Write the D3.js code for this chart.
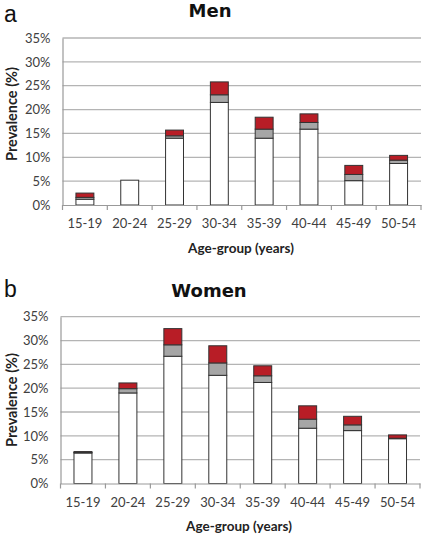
<!DOCTYPE html>
<html>
<head>
<meta charset="utf-8">
<script src="https://cdn.jsdelivr.net/npm/d3@7"></script>
<style>
  html, body { margin: 0; padding: 0; background: #fff; }
  svg { display: block; }
</style>
</head>
<body>
<svg id="chart" width="425" height="538"></svg>
<script>
// ---- data (percent) ----
const categories = ["15-19", "20-24", "25-29", "30-34", "35-39", "40-44", "45-49", "50-54"];
const menWhite   = [1.2, 5.2, 14.0, 21.5, 14.0, 15.9, 5.1, 8.7];
const menGray    = [0.4, 0.0, 0.5, 1.6, 1.9, 1.4, 1.3, 0.7];
const menRed     = [0.9, 0.0, 1.2, 2.7, 2.5, 1.8, 1.9, 1.0];
const womenWhite = [6.4, 19.0, 26.7, 22.7, 21.2, 11.6, 11.1, 9.4];
const womenGray  = [0.1, 0.9, 2.4, 2.6, 1.4, 1.9, 1.2, 0.1];
const womenRed   = [0.2, 1.2, 3.4, 3.6, 2.1, 2.8, 1.8, 0.7];
const yTicks     = [0, 5, 10, 15, 20, 25, 30, 35];
const seriesKeys = ["white", "gray", "red"];
const seriesColors = { white: "#ffffff", gray: "#a6a6a6", red: "#b81d26" };

const svg = d3.select("#chart");

function panel(cfg) {
  const g = svg.append("g");
  const rows = categories.map((c, i) => ({
    cat: c, white: cfg.white[i], gray: cfg.gray[i], red: cfg.red[i]
  }));
  const x = d3.scaleBand().domain(categories)
    .range([cfg.left, cfg.right]).paddingInner(0.6).paddingOuter(0.3);
  const y = d3.scaleLinear().domain([0, 35]).range([cfg.bottom, cfg.top]);

  // gridlines
  g.append("g").selectAll("line").data(yTicks.filter(t => t > 0)).join("line")
    .attr("x1", cfg.left).attr("x2", cfg.right)
    .attr("y1", d => y(d)).attr("y2", d => y(d))
    .attr("stroke", "#b4b4b4").attr("stroke-width", 1.3);

  // y axis
  const yAxis = d3.axisLeft(y).tickValues(yTicks).tickSize(0).tickPadding(12)
    .tickFormat(d => d + "%");
  const ya = g.append("g").attr("transform", `translate(${cfg.left},0)`).call(yAxis);
  ya.select(".domain").attr("stroke", "#999").attr("stroke-width", 1.2);
  ya.selectAll("text").attr("font-family", "Lato, 'Open Sans', sans-serif")
    .attr("font-size", 13).attr("fill", "#404040");

  // stacked bars
  const stack = d3.stack().keys(seriesKeys)(rows);
  g.append("g").selectAll("g").data(stack).join("g")
    .attr("fill", d => seriesColors[d.key])
    .selectAll("rect").data(d => d.filter(p => p[1] - p[0] > 0)).join("rect")
    .attr("x", d => x(d.data.cat))
    .attr("width", x.bandwidth())
    .attr("y", d => y(d[1]))
    .attr("height", d => y(d[0]) - y(d[1]))
    .attr("stroke", "#333").attr("stroke-width", 1);

  // x axis
  const step = x.step();
  const xAxis = d3.axisBottom(x).tickSize(0).tickPadding(14);
  const xa = g.append("g").attr("transform", `translate(0,${cfg.bottom})`).call(xAxis);
  xa.select(".domain").attr("stroke", "#999").attr("stroke-width", 1.2);
  xa.selectAll("text").attr("font-family", "Lato, 'Open Sans', sans-serif")
    .attr("font-size", 13).attr("fill", "#404040");
  // boundary tick marks
  g.append("g").selectAll("line").data(d3.range(categories.length + 1)).join("line")
    .attr("x1", i => cfg.left + i * step).attr("x2", i => cfg.left + i * step)
    .attr("y1", cfg.bottom).attr("y2", cfg.bottom + 5)
    .attr("stroke", "#999").attr("stroke-width", 1.2);

  // labels
  g.append("text").attr("x", 4).attr("y", cfg.letterY)
    .attr("font-family", "'Liberation Sans', Arial, sans-serif").attr("font-size", 23)
    .attr("fill", "#111").text(cfg.letter);
  g.append("text").attr("x", cfg.titleX).attr("y", cfg.titleY).attr("text-anchor", "middle")
    .attr("font-family", "'DejaVu Sans', Verdana, sans-serif").attr("font-weight", "bold")
    .attr("font-size", 18).attr("fill", "#111").text(cfg.title);
  g.append("text")
    .attr("transform", `translate(${cfg.ylabX},${cfg.ylabY}) rotate(-90)`)
    .attr("text-anchor", "middle")
    .attr("font-family", "Lato, 'Open Sans', sans-serif").attr("font-weight", "bold")
    .attr("font-size", 14.5).attr("fill", "#222").text("Prevalence (%)");
  g.append("text").attr("x", cfg.xlabX).attr("y", cfg.xlabY).attr("text-anchor", "middle")
    .attr("font-family", "Lato, 'Open Sans', sans-serif").attr("font-weight", "bold")
    .attr("font-size", 13.5).attr("fill", "#222").text("Age-group (years)");
}

panel({ white: menWhite, gray: menGray, red: menRed,
  left: 62.5, right: 421, top: 38, bottom: 205,
  letter: "a", letterY: 22, title: "Men", titleX: 210, titleY: 17,
  ylabX: 17, ylabY: 114, xlabX: 241, xlabY: 253 });

panel({ white: womenWhite, gray: womenGray, red: womenRed,
  left: 60.5, right: 420, top: 316.7, bottom: 483.5,
  letter: "b", letterY: 297, title: "Women", titleX: 209, titleY: 297,
  ylabX: 17, ylabY: 400, xlabX: 239, xlabY: 531 });
</script>
</body>
</html>
